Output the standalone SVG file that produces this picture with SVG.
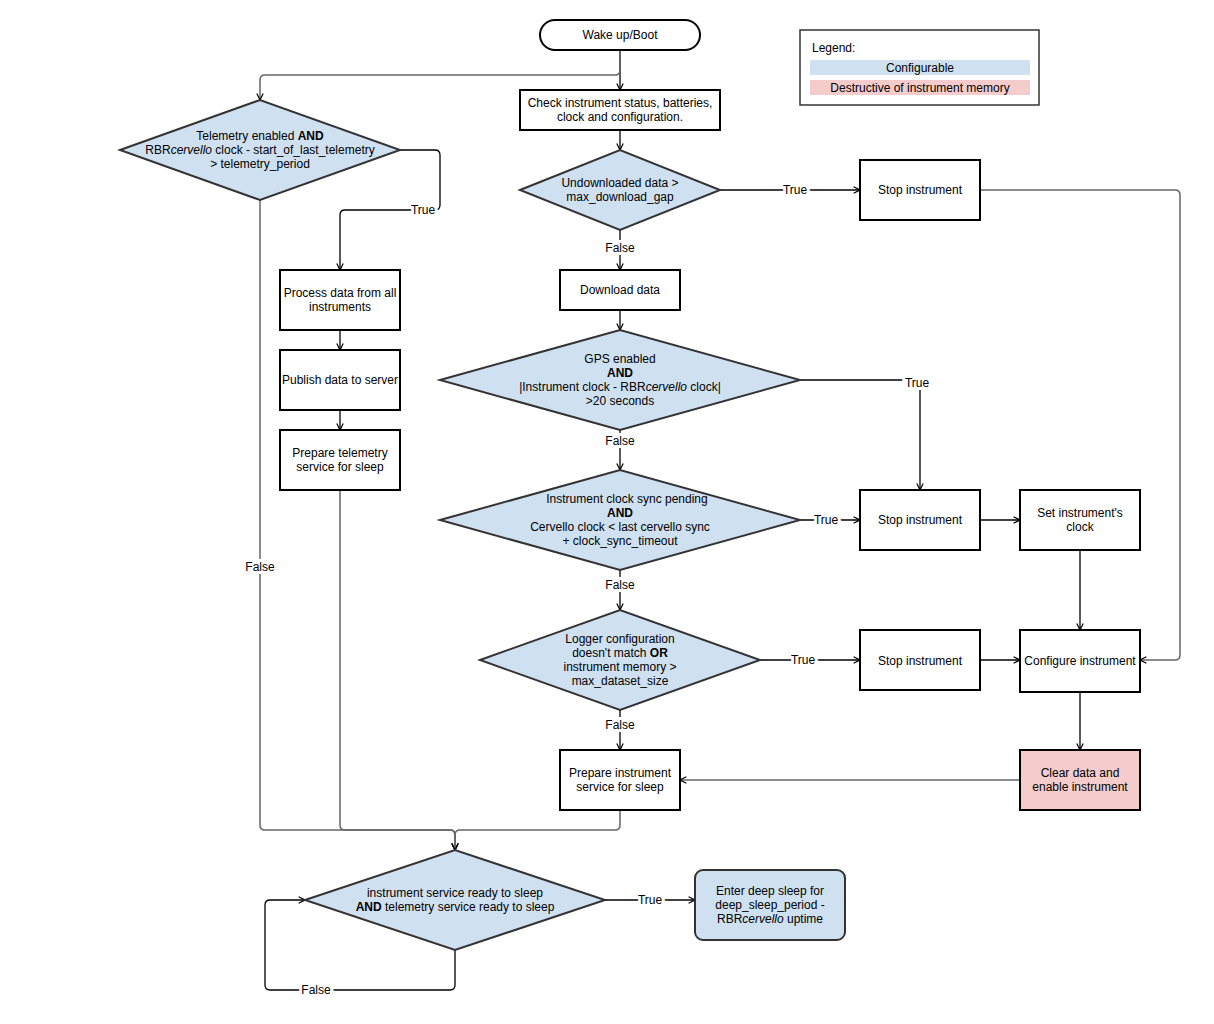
<svg xmlns="http://www.w3.org/2000/svg" width="1214" height="1024" viewBox="0 0 1214 1024">
<style>
text{font-family:"Liberation Sans",Arial,sans-serif;font-size:12px;fill:#000;text-anchor:middle}
.box{fill:#fff;stroke:#000;stroke-width:2}
.dia{fill:#cfe0f1;stroke:#333;stroke-width:2}
.c{fill:none;stroke:#000;stroke-width:1.3;marker-end:url(#a)}
.g{fill:none;stroke:#666;stroke-width:1.5;marker-end:url(#a)}
.lbl{paint-order:stroke;stroke:#fff;stroke-width:6px}
</style>
<defs><marker id="a" viewBox="0 0 10 10" refX="9" refY="5" markerWidth="8" markerHeight="8" orient="auto" markerUnits="userSpaceOnUse"><path d="M1 1L9 5L1 9" fill="none" stroke="#000" stroke-width="1.5"/></marker></defs>
<g id="connectors">
<path class="c" d="M620 50V90"/>
<path class="g" d="M620 50V70Q620 75 615 75H265Q260 75 260 80V100"/>
<path class="c" d="M620 130V150"/>
<path class="c" d="M720 190H860"/>
<path class="c" d="M620 230V270"/>
<path class="g" d="M980 190H1175Q1180 190 1180 195V655Q1180 660 1175 660H1140"/>
<path class="c" d="M620 310V330"/>
<path class="c" d="M800 380H920V490"/>
<path class="c" d="M620 430V470"/>
<path class="c" d="M800 520H860"/>
<path class="c" d="M620 570V610"/>
<path class="c" d="M760 660H860"/>
<path class="c" d="M620 710V750"/>
<path class="c" d="M980 520H1020"/>
<path class="c" d="M1080 550V630"/>
<path class="c" d="M980 660H1020"/>
<path class="c" d="M1080 692V750"/>
<path class="g" d="M1020 780H680"/>
<path class="c" d="M400 150H435Q440 150 440 155V205Q440 210 435 210H345Q340 210 340 215V270"/>
<path class="c" d="M340 330V350"/>
<path class="c" d="M340 410V430"/>
<path class="g" d="M260 200V825Q260 830 265 830H450Q455 830 455 835V850"/>
<path class="g" d="M340 490V825Q340 830 345 830H450Q455 830 455 835V850"/>
<path class="g" d="M620 810V825Q620 830 615 830H460Q455 830 455 835V850"/>
<path class="c" d="M605 900H695"/>
<path class="c" d="M455 950V985Q455 990 450 990H270Q265 990 265 985V905Q265 900 270 900H305"/>
<text class="lbl" x="795" y="194">True</text>
<text class="lbl" x="620" y="252">False</text>
<text class="lbl" x="917" y="387">True</text>
<text class="lbl" x="620" y="445">False</text>
<text class="lbl" x="826" y="524">True</text>
<text class="lbl" x="620" y="589">False</text>
<text class="lbl" x="803" y="664">True</text>
<text class="lbl" x="620" y="729">False</text>
<text class="lbl" x="423" y="214">True</text>
<text class="lbl" x="260" y="571">False</text>
<text class="lbl" x="650" y="904">True</text>
<text class="lbl" x="316" y="994">False</text>
</g>
<g id="wake"><rect x="540" y="20" width="160" height="30" rx="15" class="box" stroke-width="1.5"/><text x="620" y="39">Wake up/Boot</text></g>
<g id="check"><rect x="520" y="90" width="200" height="40" class="box"/><text x="620" y="107">Check instrument status, batteries,</text><text x="620" y="121">clock and configuration.</text></g>
<g id="telemetry"><polygon points="120,150 260,100 400,150 260,200" class="dia"/><text x="260" y="140">Telemetry enabled <tspan font-weight="bold">AND</tspan></text><text x="260" y="154">RBR<tspan font-style="italic">cervello</tspan> clock - start_of_last_telemetry</text><text x="260" y="168">&gt; telemetry_period</text></g>
<g id="undl"><polygon points="520,190 620,150 720,190 620,230" class="dia"/><text x="620" y="187">Undownloaded data &gt;</text><text x="620" y="201">max_download_gap</text></g>
<g id="stop1"><rect x="860" y="160" width="120" height="60" class="box"/><text x="920" y="194">Stop instrument</text></g>
<g id="download"><rect x="560" y="270" width="120" height="40" class="box"/><text x="620" y="294">Download data</text></g>
<g id="gps"><polygon points="440,380 620,330 800,380 620,430" class="dia"/><text x="620" y="363">GPS enabled</text><text x="620" y="377" font-weight="bold">AND</text><text x="620" y="391">|Instrument clock - RBR<tspan font-style="italic">cervello</tspan> clock|</text><text x="620" y="405">&gt;20 seconds</text></g>
<g id="sync"><polygon points="440,520 620,470 800,520 620,570" class="dia"/><text x="627" y="503">Instrument clock sync pending</text><text x="620" y="517" font-weight="bold">AND</text><text x="620" y="531">Cervello clock &lt; last cervello sync</text><text x="620" y="545">+ clock_sync_timeout</text></g>
<g id="logger"><polygon points="480,660 620,610 760,660 620,710" class="dia"/><text x="620" y="643">Logger configuration</text><text x="620" y="657">doesn't match <tspan font-weight="bold">OR</tspan></text><text x="620" y="671">instrument memory &gt;</text><text x="620" y="685">max_dataset_size</text></g>
<g id="prepinst"><rect x="560" y="750" width="120" height="60" class="box"/><text x="620" y="777">Prepare instrument</text><text x="620" y="791">service for sleep</text></g>
<g id="stop2"><rect x="860" y="490" width="120" height="60" class="box"/><text x="920" y="524">Stop instrument</text></g>
<g id="setclock"><rect x="1020" y="490" width="120" height="60" class="box"/><text x="1080" y="517">Set instrument's</text><text x="1080" y="531">clock</text></g>
<g id="stop3"><rect x="860" y="630" width="120" height="60" class="box"/><text x="920" y="665">Stop instrument</text></g>
<g id="configure"><rect x="1020" y="630" width="120" height="62" class="box"/><text x="1080" y="665">Configure instrument</text></g>
<g id="clear"><rect x="1020" y="750" width="120" height="60" class="box" fill="#f4cccc" style="fill:#f4cccc"/><text x="1080" y="777">Clear data and</text><text x="1080" y="791">enable instrument</text></g>
<g id="process"><rect x="280" y="270" width="120" height="60" class="box"/><text x="340" y="297">Process data from all</text><text x="340" y="311">instruments</text></g>
<g id="publish"><rect x="280" y="350" width="120" height="60" class="box"/><text x="340" y="384">Publish data to server</text></g>
<g id="preptel"><rect x="280" y="430" width="120" height="60" class="box"/><text x="340" y="457">Prepare telemetry</text><text x="340" y="471">service for sleep</text></g>
<g id="ready"><polygon points="305,900 455,850 605,900 455,950" class="dia"/><text x="455" y="897">instrument service ready to sleep</text><text x="455" y="911"><tspan font-weight="bold">AND</tspan>  telemetry service ready to sleep</text></g>
<g id="deepsleep"><rect x="695" y="870" width="150" height="70" rx="8" class="dia" stroke="#000"/><text x="770" y="895">Enter deep sleep for</text><text x="770" y="909">deep_sleep_period -</text><text x="770" y="923">RBR<tspan font-style="italic">cervello</tspan> uptime</text></g>
<g id="legend"><rect x="800" y="30" width="239" height="75" fill="#fff" stroke="#333" stroke-width="1.5"/><text x="812" y="52" style="text-anchor:start">Legend:</text><rect x="810" y="60" width="220" height="15" fill="#cfe0f1"/><text x="920" y="72">Configurable</text><rect x="810" y="80" width="220" height="15" fill="#f4cccc"/><text x="920" y="92">Destructive of instrument memory</text></g>
</svg>
